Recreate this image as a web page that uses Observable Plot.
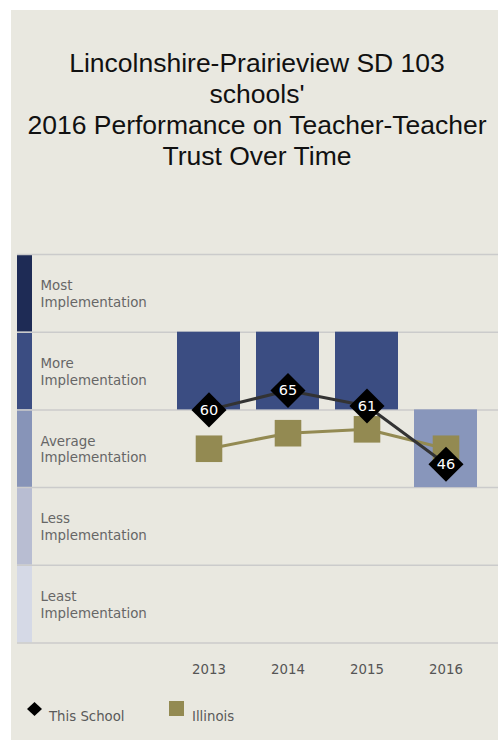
<!DOCTYPE html>
<html>
<head>
<meta charset="utf-8">
<script src="https://cdn.jsdelivr.net/npm/d3@7"></script>
<script src="https://cdn.jsdelivr.net/npm/@observablehq/plot@0.6"></script>
<style>
  html, body { margin: 0; padding: 0; background: #ffffff; width: 498px; height: 741px; overflow: hidden; }
  #panel { position: absolute; left: 11px; top: 10px; width: 487px; height: 730px; background: #e9e8e0; }
  #title { position: absolute; left: 11px; top: 48px; width: 492px; text-align: center;
           font-family: "Liberation Sans", Arial, sans-serif; font-size: 26.5px; line-height: 31px; color: #111; }
  #chart { position: absolute; left: 0; top: 0; }
  .leg { position: absolute; font-family: "DejaVu Sans", Verdana, sans-serif; font-size: 13.3px; color: #5a5a5a; }
  .leg svg { position: absolute; }
</style>
</head>
<body>
<div id="panel"></div>
<div id="title">Lincolnshire-Prairieview SD 103<br>schools'<br>2016 Performance on Teacher-Teacher<br>Trust Over Time</div>
<div id="chart"></div>
<div class="leg" style="left:27px; top:702px;">
  <svg width="16" height="16" style="left:0;top:0"><path d="M7.5,0L15,7L7.5,14L0,7Z" fill="#000"/></svg>
</div>
<div class="leg" style="left:49px; top:709px;">This School</div>
<div class="leg" style="left:169px; top:701px;">
  <svg width="16" height="16" style="left:0;top:0"><rect x="0" y="0" width="15" height="15" fill="#938a52"/></svg>
</div>
<div class="leg" style="left:192px; top:709px;">Illinois</div>
<script>
const years = ["2013", "2014", "2015", "2016"];
const schoolValues = [60, 65, 61, 46];
const illinoisValues = [50, 54, 55, 50];
const bandLabels = ["Most\nImplementation", "More\nImplementation", "Average\nImplementation", "Less\nImplementation", "Least\nImplementation"];
const bandLow = [80, 60, 40, 20, 0];
const bandHigh = [100, 80, 60, 40, 20];
const bandColors = ["#1e2b55", "#3b4d82", "#8794b8", "#b8bdd2", "#d5d9e6"];
const barLow = [60, 60, 60, 40];
const barHigh = [80, 80, 80, 60];
const barColors = ["#3b4d82", "#3b4d82", "#3b4d82", "#8896bb"];

const bands = bandLabels.map((label, i) => ({label, lo: bandLow[i], hi: bandHigh[i], color: bandColors[i]}));
const bars = years.map((year, i) => ({year, lo: barLow[i], hi: barHigh[i], color: barColors[i]}));
const school = years.map((year, i) => ({year, value: schoolValues[i]}));
const illinois = years.map((year, i) => ({year, value: illinoisValues[i]}));

const chart = Plot.plot({
  width: 498,
  height: 690,
  marginTop: 254,
  marginBottom: 47.5,
  marginLeft: 17,
  marginRight: 0,
  style: {background: "transparent", fontFamily: "DejaVu Sans, Verdana, sans-serif", fontSize: "13px"},
  x: {type: "band", domain: years, range: [168, 486], paddingInner: 0.2, paddingOuter: 0.1, axis: null, label: null},
  y: {domain: [0, 100], axis: null},
  marks: [
    Plot.rect(bands, {y1: "lo", y2: "hi", fill: "color", insetRight: 466}),
    Plot.ruleY(bandLow.concat([100]), {stroke: "#cbcbcb", strokeWidth: 1.5}),
    Plot.text(bands, {y: d => (d.lo + d.hi) / 2, text: "label", frameAnchor: "left", textAnchor: "start", dx: 23, fill: "#666", fontSize: 13.4, lineHeight: 1.25}),
    Plot.barY(bars, {x: "year", y1: "lo", y2: "hi", fill: "color"}),
    Plot.axisX({tickSize: 0, tickPadding: 22, fill: "#555", fontSize: 13.3, label: null}),
    Plot.line(illinois, {x: "year", y: "value", stroke: "#938a52", strokeWidth: 3}),
    Plot.dot(illinois, {x: "year", y: "value", symbol: "square", r: 15, fill: "#938a52"}),
    Plot.line(school, {x: "year", y: "value", stroke: "#333333", strokeWidth: 3}),
    Plot.dot(school, {x: "year", y: "value", symbol: "diamond2", r: 15.8, fill: "#000", stroke: "none"}),
    Plot.text(school, {x: "year", y: "value", text: d => String(d.value), fill: "#fff", fontSize: 14.5})
  ]
});
document.getElementById("chart").appendChild(chart);
</script>
</body>
</html>
